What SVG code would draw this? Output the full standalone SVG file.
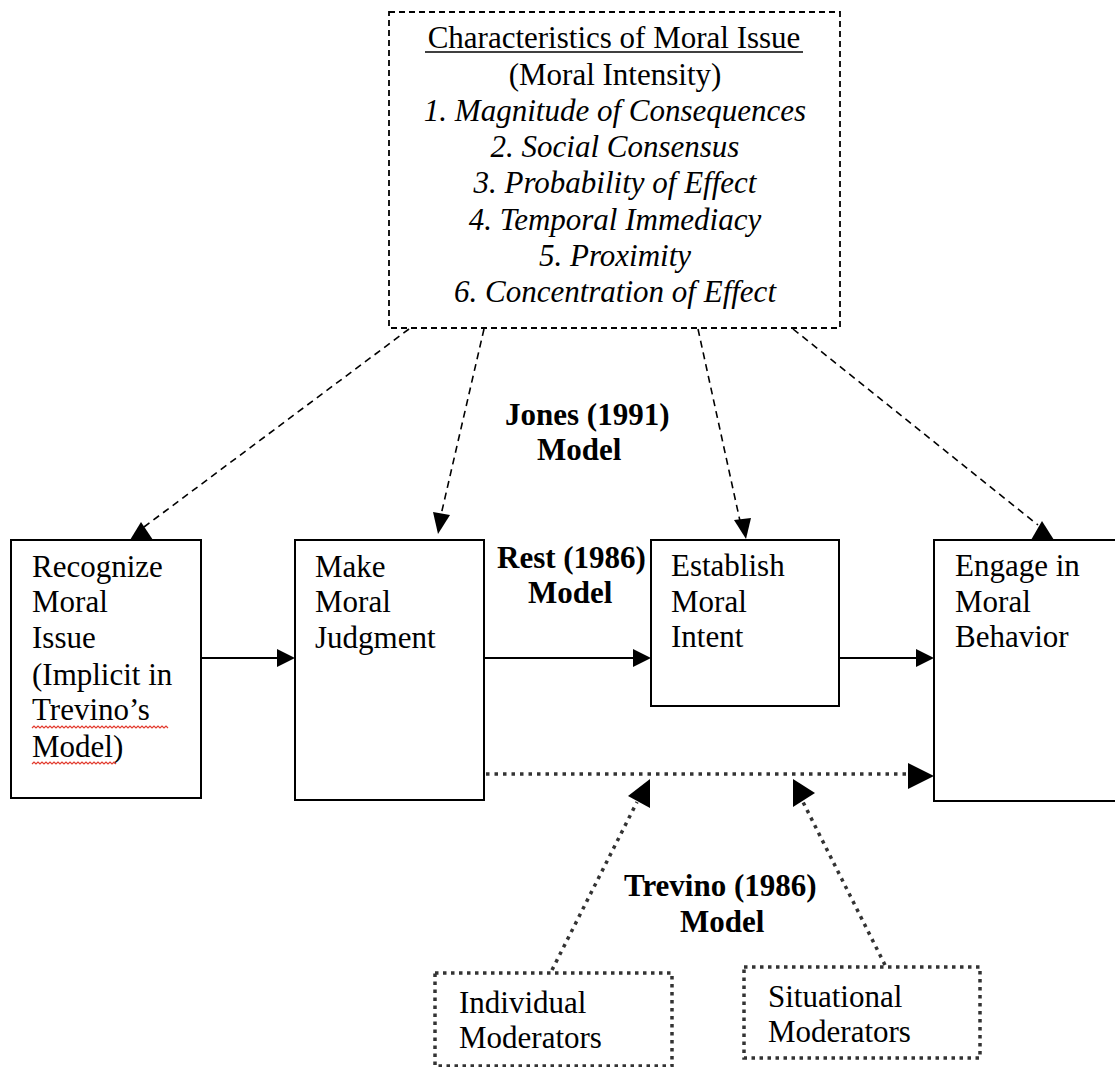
<svg xmlns="http://www.w3.org/2000/svg" width="1115" height="1067" viewBox="0 0 1115 1067">
<style>
.t{font-family:"Liberation Serif","Times New Roman",serif;font-size:31px;fill:#000}
.c{text-anchor:middle}
.it{font-style:italic}
.b{font-weight:bold}
.box{fill:#fff;stroke:#000;stroke-width:2}
.dashbox{fill:#fff;stroke:#000;stroke-width:1.8;stroke-dasharray:6 4}
.dotbox{fill:#fff;stroke:#333;stroke-width:3.5;stroke-dasharray:3.5 4.5}
.solid{stroke:#000;stroke-width:2;fill:none}
.dash{stroke:#000;stroke-width:1.6;fill:none;stroke-dasharray:7 5}
.dot{stroke:#333;stroke-width:3.5;fill:none;stroke-dasharray:3.5 5}
.head{fill:#000}
.squig{fill:none;stroke:#e23b2e;stroke-width:1.2}
</style>
<rect width="1115" height="1067" fill="#fff"/>
<g id="connectors">
  <line class="solid" x1="201" y1="658" x2="279" y2="658"/>
  <polygon class="head" points="295,658 277,649 277,667"/>
  <line class="solid" x1="484" y1="658" x2="635" y2="658"/>
  <polygon class="head" points="651,658 633,649 633,667"/>
  <line class="solid" x1="838" y1="658" x2="918" y2="658"/>
  <polygon class="head" points="934,658 916,649 916,667"/>
  <line class="dot" x1="486" y1="774" x2="908" y2="774"/>
  <polygon class="head" points="934,776 908,763 908,789"/>
  <line class="dot" x1="552" y1="970" x2="637" y2="802"/>
  <polygon class="head" points="650,779 628,796 650,808"/>
  <line class="dot" x1="885" y1="965" x2="803" y2="802"/>
  <polygon class="head" points="793,779 815,793 793,807"/>
  <line class="dash" x1="409" y1="329" x2="144" y2="527"/>
  <polygon class="head" points="141,522 130,540 153,540"/>
  <line class="dash" x1="484" y1="329" x2="441" y2="515"/>
  <polygon class="head" points="433,512 450,515 438,534"/>
  <line class="dash" x1="698" y1="329" x2="740" y2="521"/>
  <polygon class="head" points="734,520 751,518 746,539"/>
  <line class="dash" x1="793" y1="329" x2="1038" y2="525"/>
  <polygon class="head" points="1042,521 1031,540 1054,540"/>
</g>
<g id="characteristics">
  <rect class="dashbox" x="389" y="12" width="451" height="316"/>
  <text class="t c" x="614" y="48">Characteristics of Moral Issue</text>
  <line x1="425" y1="52" x2="803" y2="52" stroke="#000" stroke-width="1.5"/>
  <text class="t c" x="615" y="85">(Moral Intensity)</text>
  <text class="t c it" x="615" y="121">1. Magnitude of Consequences</text>
  <text class="t c it" x="615" y="157">2. Social Consensus</text>
  <text class="t c it" x="615" y="193">3. Probability of Effect</text>
  <text class="t c it" x="615" y="230">4. Temporal Immediacy</text>
  <text class="t c it" x="615" y="266">5. Proximity</text>
  <text class="t c it" x="615" y="302">6. Concentration of Effect</text>
</g>
<g id="jones-label">
  <text class="t b" x="505" y="425">Jones (1991)</text>
  <text class="t b" x="537" y="460">Model</text>
</g>
<g id="rest-label">
  <text class="t b" x="497" y="568">Rest (1986)</text>
  <text class="t b" x="528" y="603">Model</text>
</g>
<g id="trevino-label">
  <text class="t b" x="624" y="896">Trevino (1986)</text>
  <text class="t b" x="680" y="932">Model</text>
</g>
<g id="recognize">
  <rect class="box" x="11" y="540" width="190" height="258"/>
  <text class="t" x="32" y="577">Recognize</text>
  <text class="t" x="32" y="612">Moral</text>
  <text class="t" x="32" y="648">Issue</text>
  <text class="t" x="32" y="685">(Implicit in</text>
  <text class="t" x="32" y="720">Trevino’s</text>
  <text class="t" x="32" y="757">Model)</text>
  <path class="squig" d="M32,728 l2,-2 l2,2 l2,-2 l2,2 l2,-2 l2,2 l2,-2 l2,2 l2,-2 l2,2 l2,-2 l2,2 l2,-2 l2,2 l2,-2 l2,2 l2,-2 l2,2 l2,-2 l2,2 l2,-2 l2,2 l2,-2 l2,2 l2,-2 l2,2 l2,-2 l2,2 l2,-2 l2,2 l2,-2 l2,2 l2,-2 l2,2 l2,-2 l2,2 l2,-2 l2,2 l2,-2 l2,2 l2,-2 l2,2 l2,-2 l2,2 l2,-2 l2,2 l2,-2 l2,2 l2,-2 l2,2 l2,-2 l2,2 l2,-2 l2,2 l2,-2 l2,2 l2,-2 l2,2 l2,-2 l2,2 l2,-2 l2,2 l2,-2 l2,2 l2,-2 l2,2 l2,-2 l2,2"/>
  <path class="squig" d="M32,764 l2,-2 l2,2 l2,-2 l2,2 l2,-2 l2,2 l2,-2 l2,2 l2,-2 l2,2 l2,-2 l2,2 l2,-2 l2,2 l2,-2 l2,2 l2,-2 l2,2 l2,-2 l2,2 l2,-2 l2,2 l2,-2 l2,2 l2,-2 l2,2 l2,-2 l2,2 l2,-2 l2,2 l2,-2 l2,2 l2,-2 l2,2 l2,-2 l2,2 l2,-2 l2,2 l2,-2 l2,2 l2,-2 l2,2"/>
</g>
<g id="judgment">
  <rect class="box" x="295" y="540" width="189" height="260"/>
  <text class="t" x="315" y="577">Make</text>
  <text class="t" x="315" y="612">Moral</text>
  <text class="t" x="315" y="648">Judgment</text>
</g>
<g id="intent">
  <rect class="box" x="651" y="540" width="188" height="166"/>
  <text class="t" x="671" y="576">Establish</text>
  <text class="t" x="671" y="612">Moral</text>
  <text class="t" x="671" y="647">Intent</text>
</g>
<g id="behavior">
  <rect class="box" x="934" y="540" width="200" height="261"/>
  <text class="t" x="955" y="576">Engage in</text>
  <text class="t" x="955" y="612">Moral</text>
  <text class="t" x="955" y="647">Behavior</text>
</g>
<g id="individual">
  <rect class="dotbox" x="435" y="973" width="237" height="93"/>
  <text class="t" x="459" y="1013">Individual</text>
  <text class="t" x="459" y="1048">Moderators</text>
</g>
<g id="situational">
  <rect class="dotbox" x="744" y="967" width="236" height="91"/>
  <text class="t" x="768" y="1007">Situational</text>
  <text class="t" x="768" y="1042">Moderators</text>
</g>
</svg>
